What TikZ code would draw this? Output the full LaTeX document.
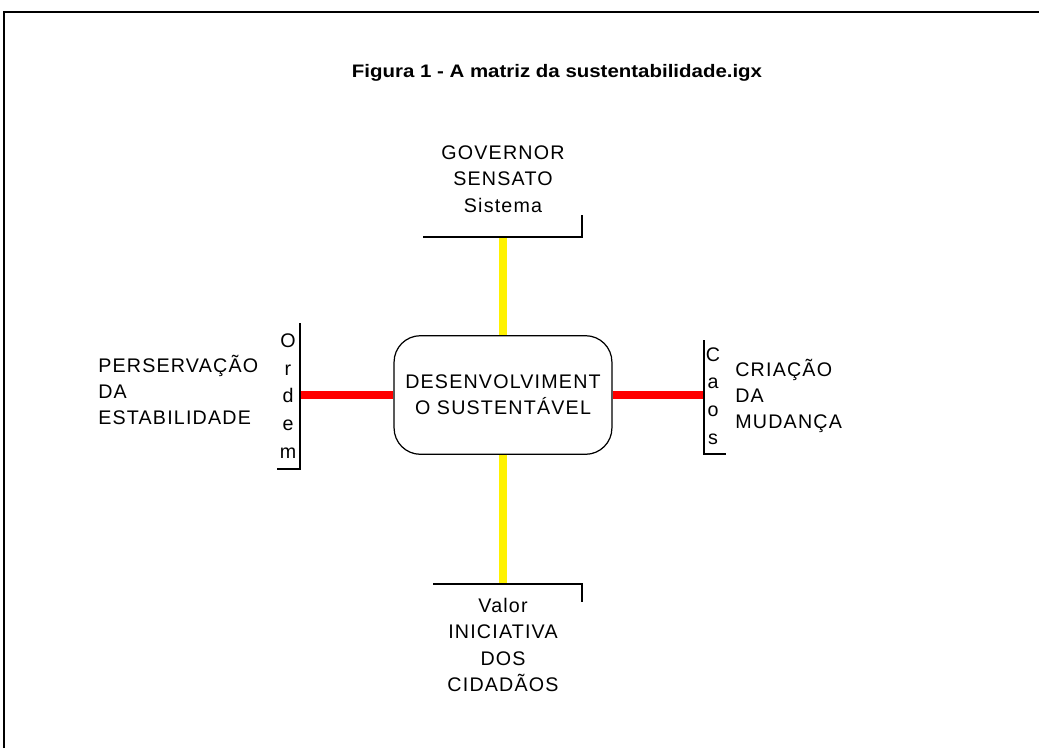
\documentclass[tikz,border=0pt]{standalone}
\usepackage{fontspec}
\setmainfont{Liberation Sans}
\usetikzlibrary{positioning}

\tikzset{
  moldura/.style={line width=1.2pt, black},
  suporte/.style={line width=0.8pt, black},
  rotulo/.style={inner sep=0pt, align=center,
    font={\fontsize{11.2}{15}\selectfont\addfontfeature{LetterSpace=6}}},
  letras/.style={inner sep=0pt, align=center,
    font={\fontsize{11.2}{15.7}\selectfont}},
  titulo/.style={inner sep=0pt, font={\fontsize{10.3}{12}\selectfont\bfseries}},
  nucleo/.style={draw, line width=0.7pt, rounded corners=15pt,
    minimum width=124pt, minimum height=67.5pt, rotulo},
  eixoV/.style={line width=5pt, yellow},
  eixoH/.style={line width=4.5pt, red}
}

\begin{document}
\begin{tikzpicture}[x=0.02cm, y=-0.02cm]
  \useasboundingbox (0,0) rectangle (1039,748);
  % moldura
  \draw[moldura] (4,748) -- (4,12) -- (1039,12);
  % titulo
  \node[titulo, anchor=base] (titulo) at (557,77)
    {\scalebox{1.13}[1]{Figura 1 - A matriz da sustentabilidade.igx}};

  % centro
  \node[nucleo] (nucleo) at (503,395) {DESENVOLVIMENT\\O SUSTENTÁVEL};
  \coordinate (topo) at (503,237);
  \coordinate (base) at (503,584);
  \coordinate (esq) at (300,395);
  \coordinate (dir) at (704,395);
  \draw[eixoV] (nucleo.north) -- (topo);
  \draw[eixoV] (nucleo.south) -- (base);
  \draw[eixoH] (nucleo.west) -- (esq);
  \draw[eixoH] (nucleo.east) -- (dir);

  % suportes
  \draw[suporte] (423,237) -- (582,237) -- (582,215);
  \draw[suporte] (433,584) -- (582,584) -- (582,602);
  \draw[suporte] (300,323) -- (300,469) -- (277,469);
  \draw[suporte] (704,340) -- (704,454) -- (726,454);

  % textos
  \node[rotulo] (governo) at (503,179) {GOVERNOR\\SENSATO\\Sistema};
  \node[rotulo] (valor) at (503,645) {Valor\\INICIATIVA\\DOS\\CIDADÃOS};
  \node[rotulo, anchor=west, align=left] (estab) at (98,390)
    {PERSERVAÇÃO\\DA\\ESTABILIDADE};
  \node[rotulo, anchor=west, align=left] (mudanca) at (735,396)
    {CRIAÇÃO\\DA\\MUDANÇA};
  \node[letras] (ordem) at (288,396) {O\\r\\d\\e\\m};
  \node[letras] (caos) at (713,396) {C\\a\\o\\s};
\end{tikzpicture}
\end{document}
